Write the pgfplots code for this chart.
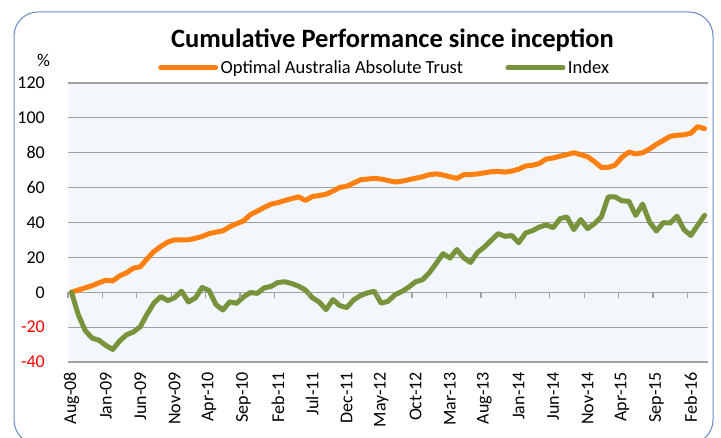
\documentclass[border=0pt]{standalone}
\usepackage{pgfplots}
\pgfplotsset{compat=1.18}
\usepackage{pgfplotstable}
\usepackage{fontspec}
\setmainfont{Carlito}
\definecolor{optorange}{RGB}{255,128,16}
\definecolor{idxgreen}{RGB}{119,147,60}
\definecolor{plotbg}{RGB}{243,246,251}
\definecolor{gridgray}{RGB}{160,160,160}
\definecolor{borderblue}{RGB}{100,140,200}

\pgfplotstableread{
x y
0.5 0
1.5 1.3
2.5 2.5
3.5 3.8
4.5 5.4
5.5 6.9
6.5 6.5
7.5 9.4
8.5 11.1
9.5 13.8
10.5 14.6
11.5 19.2
12.5 23.4
13.5 26.3
14.5 28.8
15.5 30.1
16.5 30.1
17.5 30.1
18.5 30.9
19.5 32
20.5 33.6
21.5 34.5
22.5 35.2
23.5 37.6
24.5 39.3
25.5 40.9
26.5 44.5
27.5 46.5
28.5 48.6
29.5 50.5
30.5 51.4
31.5 52.6
32.5 53.7
33.5 54.7
34.5 52.6
35.5 54.9
36.5 55.5
37.5 56.2
38.5 58
39.5 60.1
40.5 60.8
41.5 62.6
42.5 64.5
43.5 64.9
44.5 65.3
45.5 64.9
46.5 64.1
47.5 63.2
48.5 63.7
49.5 64.5
50.5 65.4
51.5 66.2
52.5 67.4
53.5 67.9
54.5 67.2
55.5 66.2
56.5 65.3
57.5 67.4
58.5 67.6
59.5 67.8
60.5 68.5
61.5 69.1
62.5 69.3
63.5 68.9
64.5 69.5
65.5 70.6
66.5 72.4
67.5 72.8
68.5 73.9
69.5 76.4
70.5 77
71.5 78
72.5 78.9
73.5 80
74.5 78.9
75.5 77.7
76.5 74.9
77.5 71.6
78.5 71.6
79.5 72.9
80.5 77.4
81.5 80.4
82.5 79.3
83.5 80
84.5 82.1
85.5 84.8
86.5 87.1
87.5 89.4
88.5 90
89.5 90.3
90.5 91.2
91.5 95
92.5 93.8
}\trusttable

\pgfplotstableread{
x y
0.5 0
1.5 -12.9
2.5 -22
3.5 -26.3
4.5 -27.5
5.5 -30.5
6.5 -32.8
7.5 -28
8.5 -24.4
9.5 -22.8
10.5 -19.8
11.5 -12.5
12.5 -6.1
13.5 -2.5
14.5 -4.8
15.5 -3.1
16.5 0.6
17.5 -5.6
18.5 -3.3
19.5 2.7
20.5 1
21.5 -7.1
22.5 -10.2
23.5 -5.5
24.5 -6.3
25.5 -2.7
26.5 -0.2
27.5 -0.6
28.5 2.5
29.5 3.3
30.5 5.6
31.5 6
32.5 5
33.5 3.5
34.5 1.3
35.5 -3.1
36.5 -5.6
37.5 -10
38.5 -4.2
39.5 -7.7
40.5 -8.8
41.5 -4.4
42.5 -1.9
43.5 -0.4
44.5 0.6
45.5 -6.3
46.5 -5.2
47.5 -1.5
48.5 0.4
49.5 2.9
50.5 6
51.5 7.1
52.5 11.1
53.5 16.5
54.5 22.1
55.5 19.6
56.5 24.5
57.5 19.8
58.5 17.1
59.5 22.8
60.5 25.9
61.5 29.8
62.5 33.6
63.5 32.1
64.5 32.5
65.5 28.4
66.5 34
67.5 35.3
68.5 37.4
69.5 38.6
70.5 37
71.5 42.2
72.5 43.2
73.5 35.9
74.5 41.7
75.5 36.5
76.5 39.3
77.5 43.2
78.5 54.7
79.5 54.7
80.5 52.4
81.5 52.2
82.5 44.1
83.5 50.5
84.5 40.3
85.5 35.1
86.5 39.9
87.5 39.7
88.5 43.6
89.5 35.9
90.5 32.6
91.5 38.4
92.5 44.1
}\indextable

\begin{document}
\begin{tikzpicture}
\useasboundingbox (0pt,0pt) rectangle (721pt,438pt);
\fill[white] (0pt,0pt) rectangle (721pt,438pt);
\draw[borderblue, line width=1pt, rounded corners=24pt] (14pt,-6pt) rectangle (713pt,426pt);
\begin{axis}[
  at={(68pt,76pt)}, anchor=south west,
  scale only axis, width=640pt, height=279pt,
  xmin=0, xmax=93, ymin=-40, ymax=120,
  axis background/.style={fill=plotbg},
  axis line style={draw=none},
  major tick length=0pt,
  ytick={-40,-20,0,20,40,60,80,100,120},
  yticklabels={\textcolor{red}{-40},\textcolor{red}{-20},0,20,40,60,80,100,120},
  ymajorgrids,
  grid style={gridgray, line width=1.2pt},
  xtick={0.5,5.5,...,90.5},
  xticklabels={Aug-08,Jan-09,Jun-09,Nov-09,Apr-10,Sep-10,Feb-11,Jul-11,Dec-11,May-12,Oct-12,Mar-13,Aug-13,Jan-14,Jun-14,Nov-14,Apr-15,Sep-15,Feb-16},
  xticklabel style={rotate=90, anchor=east, inner sep=0pt, font=\fontsize{18}{18}\selectfont},
  xticklabel shift=10pt,
  yticklabel style={anchor=east, inner sep=0pt, xshift=-23pt, font=\fontsize{18}{18}\selectfont},
  ylabel={\%},
  ylabel style={rotate=-90, at={(axis description cs:-0.038,1.082)}, anchor=center, font=\fontsize{18}{18}\selectfont},
  title={Cumulative Performance since inception},
  title style={at={(axis description cs:0.507,1.106)}, anchor=base, inner sep=0pt, font=\fontsize{26.5}{26.5}\selectfont\bfseries},
  legend columns=2,
  legend image code/.code={\draw[#1] (0pt,0pt) -- (55pt,0pt);},
  legend style={at={(axis description cs:0.1406,1.055)}, anchor=west, draw=none, fill=none, inner sep=0pt,
    font=\fontsize{18.5}{18.5}\selectfont,
    nodes={inner sep=2.5pt},
    /tikz/every even column/.append style={column sep=40pt}},
  clip=false,
]
\addplot[optorange, line width=5pt, line join=round, line cap=round] table[x=x,y=y] {\trusttable};
\addlegendentry{Optimal Australia Absolute Trust}
\addplot[idxgreen, line width=5pt, line join=round, line cap=round] table[x=x,y=y] {\indextable};
\addlegendentry{Index}
\pgfplotsinvokeforeach{0,5,...,90}{\draw[gridgray, line width=1.2pt] (axis cs:#1,0) -- ([yshift=-5.5pt]axis cs:#1,0);}
\end{axis}
\end{tikzpicture}
\end{document}
